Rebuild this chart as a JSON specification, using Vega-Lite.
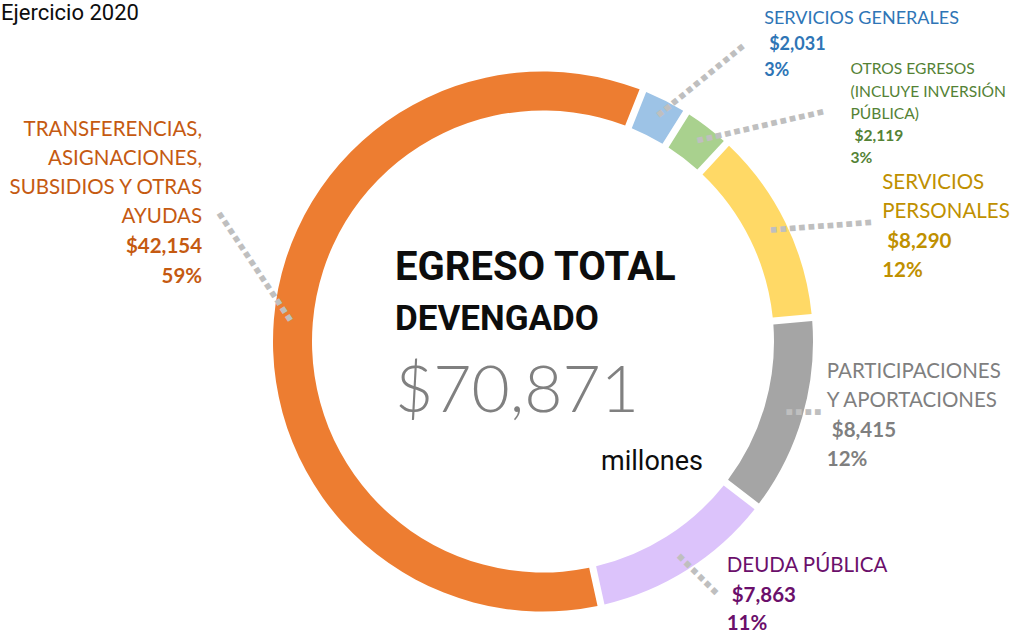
{
  "$schema": "https://vega.github.io/schema/vega-lite/v6.json",
  "width": 936,
  "height": 585,
  "autosize": "none",
  "padding": {"left": 75, "top": 49, "right": 0, "bottom": 0},
  "background": "white",
  "datasets": {
    "rubros": [
      {"orden": 1, "rubro": "SERVICIOS GENERALES", "monto": 2031, "pct": 0.03},
      {"orden": 2, "rubro": "OTROS EGRESOS\n(INCLUYE INVERSIÓN\nPÚBLICA)", "monto": 2119, "pct": 0.03},
      {"orden": 3, "rubro": "SERVICIOS\nPERSONALES", "monto": 8290, "pct": 0.12},
      {"orden": 4, "rubro": "PARTICIPACIONES\nY APORTACIONES", "monto": 8415, "pct": 0.12},
      {"orden": 5, "rubro": "DEUDA PÚBLICA", "monto": 7863, "pct": 0.11},
      {"orden": 6, "rubro": "TRANSFERENCIAS,\nASIGNACIONES,\nSUBSIDIOS Y OTRAS\nAYUDAS", "monto": 42154, "pct": 0.59}
    ],
    "centro": [
      {"ejercicio": "Ejercicio 2020", "titulo1": "EGRESO TOTAL", "titulo2": "DEVENGADO", "total": 70871, "unidad": "millones"}
    ]
  },
  "layer": [
    {
      "data": {"name": "rubros"},
      "encoding": {
        "theta": {"field": "monto", "type": "quantitative", "stack": true, "scale": {"range": [0.379, 6.6622]}},
        "order": {"field": "orden", "type": "quantitative"},
        "detail": {"field": "rubro", "type": "nominal"}
      },
      "layer": [
        {"mark": {"type": "arc", "innerRadius": 231, "outerRadius": 270, "padAngle": 0.02},
         "encoding": {"color": {"field": "rubro", "type": "nominal", "legend": null,
           "scale": {"domain": ["SERVICIOS GENERALES", "OTROS EGRESOS\n(INCLUYE INVERSIÓN\nPÚBLICA)", "SERVICIOS\nPERSONALES", "PARTICIPACIONES\nY APORTACIONES", "DEUDA PÚBLICA", "TRANSFERENCIAS,\nASIGNACIONES,\nSUBSIDIOS Y OTRAS\nAYUDAS"],
                     "range": ["#9DC3E6", "#A9D18E", "#FFD966", "#A5A5A5", "#DCC3FB", "#ED7D31"]}}}},

        {"mark": {"type": "text", "radius": 253, "align": "left", "baseline": "middle", "angle": 320.8, "font": "DejaVu Sans", "fontSize": 7.5, "color": "#BFBFBF"},
         "encoding": {"text": {"condition": {"test": "datum.orden === 1", "value": "■ ■ ■ ■ ■ ■ ■ ■ ■ ■ ■ ■"}, "value": ""}}},
        {"mark": {"type": "text", "radius": 253, "align": "left", "baseline": "middle", "angle": 347.1, "font": "DejaVu Sans", "fontSize": 7.5, "color": "#BFBFBF"},
         "encoding": {"text": {"condition": {"test": "datum.orden === 2", "value": "■ ■ ■ ■ ■ ■ ■ ■ ■ ■ ■ ■ ■ ■"}, "value": ""}}},
        {"mark": {"type": "text", "radius": 253, "align": "left", "baseline": "middle", "angle": 355.6, "font": "DejaVu Sans", "fontSize": 7.5, "color": "#BFBFBF"},
         "encoding": {"text": {"condition": {"test": "datum.orden === 3", "value": "■ ■ ■ ■ ■ ■ ■ ■ ■ ■ ■"}, "value": ""}}},
        {"mark": {"type": "text", "radius": 253, "align": "left", "baseline": "middle", "angle": 0, "font": "DejaVu Sans", "fontSize": 7.5, "color": "#BFBFBF"},
         "encoding": {"text": {"condition": {"test": "datum.orden === 4", "value": "■ ■ ■ ■"}, "value": ""}}},
        {"mark": {"type": "text", "radius": 253, "align": "left", "baseline": "middle", "angle": 45, "font": "DejaVu Sans", "fontSize": 7.5, "color": "#BFBFBF"},
         "encoding": {"text": {"condition": {"test": "datum.orden === 5", "value": "■ ■ ■ ■ ■ ■"}, "value": ""}}},
        {"mark": {"type": "text", "radius": 253, "align": "left", "baseline": "middle", "angle": 236.3, "font": "DejaVu Sans", "fontSize": 7.5, "color": "#BFBFBF"},
         "encoding": {"text": {"condition": {"test": "datum.orden === 6", "value": "■ ■ ■ ■ ■ ■ ■ ■ ■ ■ ■ ■ ■ ■"}, "value": ""}}},

        {"mark": {"type": "text", "radius": 330, "align": "left", "baseline": "alphabetic", "dx": 72, "dy": -23, "font": "Lato", "fontSize": 18, "lineBreak": "\n", "lineHeight": 26, "color": "#2E75B6"},
         "encoding": {"text": {"condition": {"test": "datum.orden === 1", "field": "rubro", "type": "nominal"}, "value": ""}}},
        {"mark": {"type": "text", "radius": 330, "align": "left", "baseline": "alphabetic", "dx": 77, "dy": 3, "font": "Lato", "fontSize": 18, "fontWeight": "bold", "color": "#2E75B6"},
         "encoding": {"text": {"condition": {"test": "datum.orden === 1", "field": "monto", "type": "quantitative", "format": "$,"}, "value": ""}}},
        {"mark": {"type": "text", "radius": 330, "align": "left", "baseline": "alphabetic", "dx": 72, "dy": 29, "font": "Lato", "fontSize": 18, "fontWeight": "bold", "color": "#2E75B6"},
         "encoding": {"text": {"condition": {"test": "datum.orden === 1", "field": "pct", "type": "quantitative", "format": ".0%"}, "value": ""}}},

        {"mark": {"type": "text", "radius": 330, "align": "left", "baseline": "alphabetic", "dx": 107, "dy": -5, "font": "Lato", "fontSize": 15.6, "lineBreak": "\n", "lineHeight": 22.4, "color": "#548235"},
         "encoding": {"text": {"condition": {"test": "datum.orden === 2", "field": "rubro", "type": "nominal"}, "value": ""}}},
        {"mark": {"type": "text", "radius": 330, "align": "left", "baseline": "alphabetic", "dx": 111, "dy": 62, "font": "Lato", "fontSize": 15.6, "fontWeight": "bold", "color": "#548235"},
         "encoding": {"text": {"condition": {"test": "datum.orden === 2", "field": "monto", "type": "quantitative", "format": "$,"}, "value": ""}}},
        {"mark": {"type": "text", "radius": 330, "align": "left", "baseline": "alphabetic", "dx": 107, "dy": 84, "font": "Lato", "fontSize": 15.6, "fontWeight": "bold", "color": "#548235"},
         "encoding": {"text": {"condition": {"test": "datum.orden === 2", "field": "pct", "type": "quantitative", "format": ".0%"}, "value": ""}}},

        {"mark": {"type": "text", "radius": 330, "align": "left", "baseline": "alphabetic", "dx": 43, "dy": -7, "font": "Lato", "fontSize": 20.5, "lineBreak": "\n", "lineHeight": 29, "color": "#BF9000"},
         "encoding": {"text": {"condition": {"test": "datum.orden === 3", "field": "rubro", "type": "nominal"}, "value": ""}}},
        {"mark": {"type": "text", "radius": 330, "align": "left", "baseline": "alphabetic", "dx": 48, "dy": 52, "font": "Lato", "fontSize": 20.5, "fontWeight": "bold", "color": "#BF9000"},
         "encoding": {"text": {"condition": {"test": "datum.orden === 3", "field": "monto", "type": "quantitative", "format": "$,"}, "value": ""}}},
        {"mark": {"type": "text", "radius": 330, "align": "left", "baseline": "alphabetic", "dx": 43, "dy": 81, "font": "Lato", "fontSize": 20.5, "fontWeight": "bold", "color": "#BF9000"},
         "encoding": {"text": {"condition": {"test": "datum.orden === 3", "field": "pct", "type": "quantitative", "format": ".0%"}, "value": ""}}},

        {"mark": {"type": "text", "radius": 330, "align": "left", "baseline": "alphabetic", "dx": -33, "dy": -56, "font": "Lato", "fontSize": 20.5, "lineBreak": "\n", "lineHeight": 29.5, "color": "#7F7F7F"},
         "encoding": {"text": {"condition": {"test": "datum.orden === 4", "field": "rubro", "type": "nominal"}, "value": ""}}},
        {"mark": {"type": "text", "radius": 330, "align": "left", "baseline": "alphabetic", "dx": -28, "dy": 3, "font": "Lato", "fontSize": 20.5, "fontWeight": "bold", "color": "#7F7F7F"},
         "encoding": {"text": {"condition": {"test": "datum.orden === 4", "field": "monto", "type": "quantitative", "format": "$,"}, "value": ""}}},
        {"mark": {"type": "text", "radius": 330, "align": "left", "baseline": "alphabetic", "dx": -33, "dy": 32, "font": "Lato", "fontSize": 20.5, "fontWeight": "bold", "color": "#7F7F7F"},
         "encoding": {"text": {"condition": {"test": "datum.orden === 4", "field": "pct", "type": "quantitative", "format": ".0%"}, "value": ""}}},

        {"mark": {"type": "text", "radius": 330, "align": "left", "baseline": "alphabetic", "dx": 7, "dy": -48, "font": "Lato", "fontSize": 20.5, "lineBreak": "\n", "lineHeight": 29.5, "color": "#6B0F6B"},
         "encoding": {"text": {"condition": {"test": "datum.orden === 5", "field": "rubro", "type": "nominal"}, "value": ""}}},
        {"mark": {"type": "text", "radius": 330, "align": "left", "baseline": "alphabetic", "dx": 12, "dy": -18, "font": "Lato", "fontSize": 20.5, "fontWeight": "bold", "color": "#6B0F6B"},
         "encoding": {"text": {"condition": {"test": "datum.orden === 5", "field": "monto", "type": "quantitative", "format": "$,"}, "value": ""}}},
        {"mark": {"type": "text", "radius": 330, "align": "left", "baseline": "alphabetic", "dx": 7, "dy": 10, "font": "Lato", "fontSize": 20.5, "fontWeight": "bold", "color": "#6B0F6B"},
         "encoding": {"text": {"condition": {"test": "datum.orden === 5", "field": "pct", "type": "quantitative", "format": ".0%"}, "value": ""}}},

        {"mark": {"type": "text", "radius": 330, "align": "right", "baseline": "alphabetic", "dx": -12, "dy": -179, "font": "Lato", "fontSize": 20.5, "lineBreak": "\n", "lineHeight": 29, "color": "#C55A11"},
         "encoding": {"text": {"condition": {"test": "datum.orden === 6", "field": "rubro", "type": "nominal"}, "value": ""}}},
        {"mark": {"type": "text", "radius": 330, "align": "right", "baseline": "alphabetic", "dx": -12, "dy": -62, "font": "Lato", "fontSize": 20.5, "fontWeight": "bold", "color": "#C55A11"},
         "encoding": {"text": {"condition": {"test": "datum.orden === 6", "field": "monto", "type": "quantitative", "format": "$,"}, "value": ""}}},
        {"mark": {"type": "text", "radius": 330, "align": "right", "baseline": "alphabetic", "dx": -12, "dy": -32, "font": "Lato", "fontSize": 20.5, "fontWeight": "bold", "color": "#C55A11"},
         "encoding": {"text": {"condition": {"test": "datum.orden === 6", "field": "pct", "type": "quantitative", "format": ".0%"}, "value": ""}}}
      ]
    },
    {
      "data": {"name": "centro"},
      "layer": [
        {"mark": {"type": "text", "align": "left", "baseline": "alphabetic", "dx": -542, "dy": -322, "font": "Roboto", "fontSize": 22, "color": "#0D0D0D"},
         "encoding": {"text": {"field": "ejercicio", "type": "nominal"}}},
        {"mark": {"type": "text", "align": "left", "baseline": "alphabetic", "dx": -148, "dy": -61.5, "font": "Roboto", "fontSize": 40, "fontWeight": "bold", "color": "#0D0D0D"},
         "encoding": {"text": {"field": "titulo1", "type": "nominal"}}},
        {"mark": {"type": "text", "align": "left", "baseline": "alphabetic", "dx": -148, "dy": -11.5, "font": "Roboto", "fontSize": 35, "fontWeight": "bold", "color": "#0D0D0D"},
         "encoding": {"text": {"field": "titulo2", "type": "nominal"}}},
        {"mark": {"type": "text", "align": "left", "baseline": "alphabetic", "dx": -148, "dy": 70, "font": "Lato", "fontSize": 66, "fontWeight": 300, "color": "#808080"},
         "encoding": {"text": {"field": "total", "type": "quantitative", "format": "$,"}}},
        {"mark": {"type": "text", "align": "right", "baseline": "alphabetic", "dx": 160, "dy": 128.5, "font": "Roboto", "fontSize": 27, "color": "#0D0D0D"},
         "encoding": {"text": {"field": "unidad", "type": "nominal"}}}
      ]
    }
  ],
  "config": {"view": {"stroke": null}}
}
